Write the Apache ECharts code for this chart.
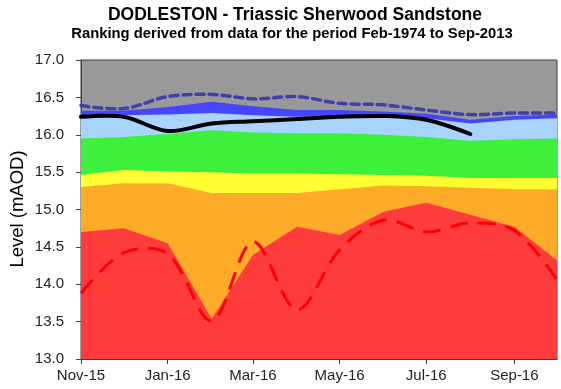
<!DOCTYPE html>
<html>
<head>
<meta charset="utf-8">
<title>DODLESTON - Triassic Sherwood Sandstone</title>
<script src="https://cdn.jsdelivr.net/npm/echarts@6/dist/echarts.min.js"></script>
<style>
  html, body { margin: 0; padding: 0; background: #ffffff; }
  #chart { width: 561px; height: 389px; }
</style>
</head>
<body>
<div id="chart"></div>
<script>
// Monthly points (first of each month)
var months = ['2015-11-01', '2015-12-01', '2016-01-01', '2016-02-01', '2016-03-01', '2016-04-01',
              '2016-05-01', '2016-06-01', '2016-07-01', '2016-08-01', '2016-09-01', '2016-10-01'];

// Upper edge of each ranking band (mAOD); the grey band above reaches the top of the axis
var notablyHigh      = [16.32, 16.32, 16.37, 16.44, 16.38, 16.33, 16.33, 16.31, 16.28, 16.20, 16.25, 16.27];
var aboveNormal      = [16.25, 16.26, 16.27, 16.29, 16.26, 16.24, 16.24, 16.24, 16.22, 16.15, 16.20, 16.22];
var normalRange      = [15.95, 15.97, 16.01, 16.06, 16.03, 16.02, 16.02, 16.00, 15.97, 15.92, 15.94, 15.95];
var belowNormal      = [15.46, 15.53, 15.51, 15.50, 15.48, 15.48, 15.47, 15.46, 15.45, 15.42, 15.42, 15.42];
var notablyLow       = [15.30, 15.35, 15.35, 15.22, 15.22, 15.22, 15.27, 15.32, 15.31, 15.29, 15.27, 15.27];
var exceptionallyLow = [14.70, 14.75, 14.55, 13.54, 14.39, 14.77, 14.66, 14.97, 15.09, 14.93, 14.77, 14.32];

// Record extremes and the current series
var maxLevel   = [16.39, 16.35, 16.51, 16.54, 16.48, 16.51, 16.42, 16.40, 16.33, 16.27, 16.29, 16.29];
var minLevel   = [13.88, 14.42, 14.41, 13.51, 14.57, 13.66, 14.46, 14.86, 14.70, 14.82, 14.72, 14.06];
var level2016  = [16.24, 16.24, 16.05, 16.15, 16.18, 16.21, 16.24, 16.25, 16.20, 16.01];

// Axis ticks
var yTicks = { min: 13.0, max: 17.0, step: 0.5 };
var xTickMonths = ['2015-11-01', '2016-01-01', '2016-03-01', '2016-05-01', '2016-07-01', '2016-09-01'];
var monthNames = ['Jan', 'Feb', 'Mar', 'Apr', 'May', 'Jun', 'Jul', 'Aug', 'Sep', 'Oct', 'Nov', 'Dec'];

function toTime(s) {
  var p = s.split('-');
  return new Date(+p[0], +p[1] - 1, +p[2]).getTime();
}
function pairs(values) {
  return values.map(function (v, i) { return [toTime(months[i]), v]; });
}

var FONT = 'Arial, "Liberation Sans", sans-serif';

// Filled band: area from its upper edge down to the bottom of the axis
function band(name, values, color) {
  return {
    name: name,
    type: 'line',
    data: pairs(values),
    symbol: 'none',
    silent: true,
    lineStyle: { width: 0 },
    areaStyle: { color: color, opacity: 1, origin: 'start' }
  };
}

// Spline-smoothed curve through the monthly points, positioned with the chart's own scales
function curve(name, values, style) {
  var data = pairs(values);
  return {
    name: name,
    type: 'custom',
    coordinateSystem: 'cartesian2d',
    data: data,
    encode: { x: 0, y: 1 },
    silent: true,
    z: 3,
    renderItem: function (params, api) {
      if (params.dataIndex !== 0) return null;
      var pts = data.map(function (d) { return api.coord(d); });
      return {
        type: 'polyline',
        shape: { points: pts, smooth: 0.33 },
        style: Object.assign({ fill: null }, style)
      };
    }
  };
}

var chart = echarts.init(document.getElementById('chart'), null, { renderer: 'canvas' });

var xTickValues = xTickMonths.map(toTime);

chart.setOption({
  animation: false,
  backgroundColor: '#ffffff',
  textStyle: { fontFamily: FONT },
  graphic: [
    {
      type: 'text', x: 295, y: 15,
      style: {
        text: 'DODLESTON - Triassic Sherwood Sandstone',
        font: 'bold 17.5px ' + FONT, fill: '#000000',
        textAlign: 'center', textVerticalAlign: 'middle', align: 'center', verticalAlign: 'middle'
      }
    },
    {
      type: 'text', x: 292, y: 34,
      style: {
        text: 'Ranking derived from data for the period Feb-1974 to Sep-2013',
        font: 'bold 14.8px ' + FONT, fill: '#000000',
        textAlign: 'center', textVerticalAlign: 'middle', align: 'center', verticalAlign: 'middle'
      }
    },
    {
      type: 'text', x: 18, y: 209, rotation: Math.PI / 2,
      style: {
        text: 'Level (mAOD)',
        font: '18.5px ' + FONT, fill: '#000000',
        textAlign: 'center', textVerticalAlign: 'middle', align: 'center', verticalAlign: 'middle'
      }
    }
  ],
  grid: {
    left: 81, right: 4, top: 60, bottom: 30,
    show: true, backgroundColor: '#999999',
    borderColor: '#404040', borderWidth: 1
  },
  xAxis: {
    type: 'value',
    min: toTime(months[0]),
    max: toTime(months[months.length - 1]),
    splitLine: { show: false },
    axisLine: { show: true, lineStyle: { color: '#404040', width: 1 } },
    axisTick: {
      show: true, length: 5, inside: false,
      customValues: xTickValues,
      lineStyle: { color: '#404040' }
    },
    axisLabel: {
      customValues: xTickValues,
      margin: 9,
      fontSize: 15, color: '#222222', fontFamily: FONT,
      formatter: function (v) {
        var d = new Date(v);
        return monthNames[d.getMonth()] + '-' + String(d.getFullYear()).slice(2);
      }
    }
  },
  yAxis: {
    type: 'value',
    min: yTicks.min, max: yTicks.max, interval: yTicks.step,
    splitLine: { show: false },
    axisLine: { show: true, lineStyle: { color: '#404040', width: 1 } },
    axisTick: { show: true, length: 5, inside: false, lineStyle: { color: '#404040' } },
    axisLabel: {
      margin: 17, fontSize: 15, color: '#222222', fontFamily: FONT,
      formatter: function (v) { return v.toFixed(1); }
    }
  },
  series: [
    band('Notably high', notablyHigh, '#4646ff'),
    band('Above normal', aboveNormal, '#a8d4ff'),
    band('Normal', normalRange, '#3cf03c'),
    band('Below normal', belowNormal, '#ffff33'),
    band('Notably low', notablyLow, '#ffab2a'),
    band('Exceptionally low', exceptionallyLow, '#ff3c3c'),
    curve('Maximum', maxLevel, { stroke: '#4040a8', lineWidth: 3.5, lineDash: [8, 5], lineCap: 'round' }),
    curve('Minimum', minLevel, { stroke: '#ff0000', lineWidth: 3, lineDash: [18, 10] }),
    curve('Level', level2016, { stroke: '#000000', lineWidth: 4, lineCap: 'round', lineJoin: 'round' })
  ]
});
</script>
</body>
</html>
